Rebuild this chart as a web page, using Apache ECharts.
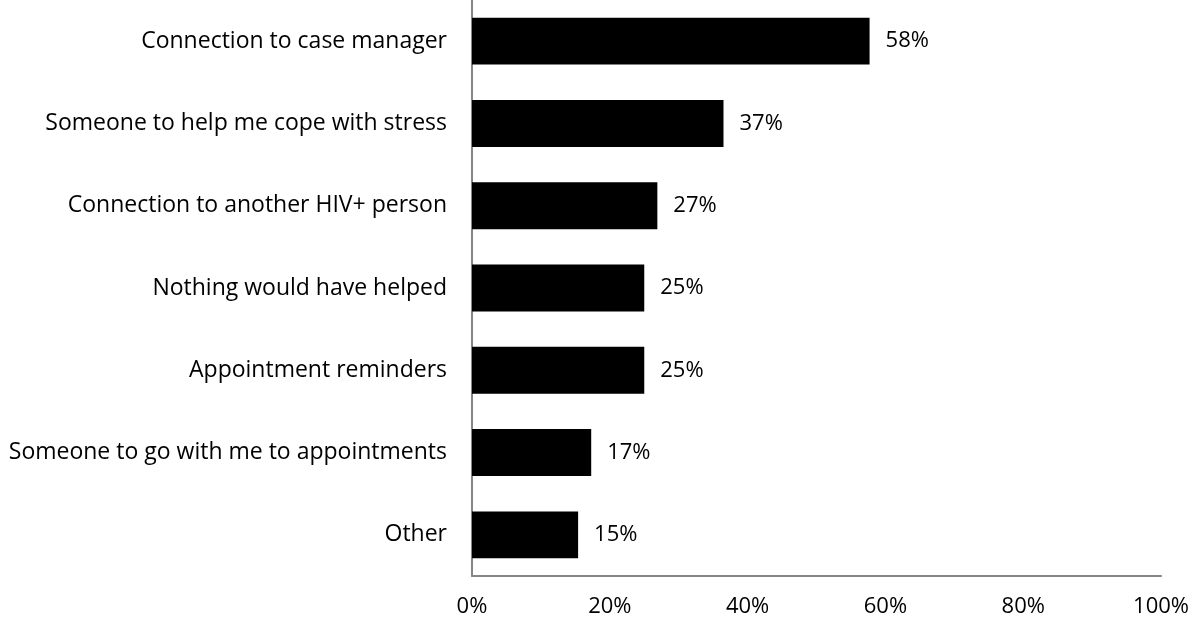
<!DOCTYPE html>
<html>
<head>
<meta charset="utf-8">
<script src="https://cdn.jsdelivr.net/npm/echarts@6/dist/echarts.min.js"></script>
<style>
  html, body { margin: 0; padding: 0; background: #ffffff; }
  #chart { width: 1192px; height: 619px; }
</style>
</head>
<body>
<div id="chart"></div>
<script>
// Share of respondents naming each kind of support (percent)
const categories = [
  'Connection to case manager',
  'Someone to help me cope with stress',
  'Connection to another HIV+ person',
  'Nothing would have helped',
  'Appointment reminders',
  'Someone to go with me to appointments',
  'Other'
];
const values = [57.7, 36.5, 26.9, 25.0, 25.0, 17.3, 15.4];
const xTicks = [0, 20, 40, 60, 80, 100];

const FONT = '"Open Sans", "Liberation Sans", sans-serif';
const chart = echarts.init(document.getElementById('chart'), null, { renderer: 'canvas' });

chart.setOption({
  animation: false,
  backgroundColor: '#ffffff',
  grid: { left: 472, right: 28, top: 0, bottom: 43, containLabel: false },
  xAxis: {
    type: 'value',
    min: xTicks[0],
    max: xTicks[xTicks.length - 1],
    interval: xTicks[1] - xTicks[0],
    axisLine: { show: true, lineStyle: { color: '#868686', width: 2 } },
    axisTick: { show: false },
    splitLine: { show: false },
    axisLabel: {
      formatter: v => v + '%',
      color: '#000000',
      fontFamily: FONT,
      fontSize: 22,
      margin: 20
    }
  },
  yAxis: {
    type: 'category',
    inverse: true,
    data: categories,
    axisLine: { show: true, lineStyle: { color: '#868686', width: 2 } },
    axisTick: { show: false },
    axisLabel: {
      color: '#000000',
      fontFamily: FONT,
      fontSize: 23,
      margin: 25
    }
  },
  series: [{
    type: 'bar',
    data: values,
    barCategoryGap: '43%',
    itemStyle: { color: '#000000' },
    label: {
      show: true,
      position: 'right',
      distance: 16,
      formatter: p => Math.round(p.value) + '%',
      color: '#000000',
      fontFamily: FONT,
      fontSize: 22
    }
  }]
});
</script>
</body>
</html>
